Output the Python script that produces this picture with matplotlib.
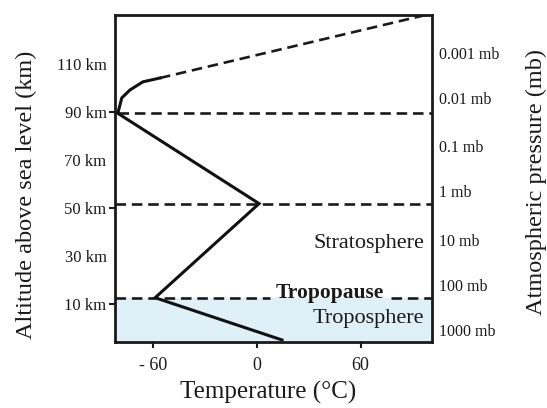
import matplotlib
matplotlib.use("Agg")
import matplotlib.pyplot as plt

# Temperature profile (temperature °C, altitude km)
profile_temp = [14.5, -59, 1.2, -80.6, -78.3, -73.6, -66.1, -56.2]
profile_alt = [-4.8, 12.8, 52.0, 89.6, 96.0, 99.3, 102.7, 104.3]
# extrapolated (dashed) upper part
upper_temp = [-56.2, 100.3]
upper_alt = [104.3, 131.0]

# Boundary levels (km)
tropopause_alt = 12.8
stratopause_alt = 51.8
mesopause_alt = 89.6

alt_ticks_major = [10, 50, 90]
alt_ticks_minor = [30, 70, 110]
temp_ticks = [-60, 0, 60]
temp_labels = ["- 60", "0", "60"]

pressure_alt = [114.7, 96.0, 76.1, 57.4, 36.7, 18.0, -0.7]
pressure_labels = ["0.001 mb", "0.01 mb", "0.1 mb", "1 mb", "10 mb", "100 mb", "1000 mb"]

XMIN, XMAX = -82.3, 101.4
YMIN, YMAX = -5.6, 130.5

plt.rcParams['font.family'] = ['Liberation Serif', 'DejaVu Serif']
TXT = '#1a1a1a'

fig = plt.figure(figsize=(5.47, 4.08), dpi=100)
ax = fig.add_axes([0.210, 0.162, 0.580, 0.801])
ax.set_xlim(XMIN, XMAX)
ax.set_ylim(YMIN, YMAX)

# troposphere shading
ax.axhspan(YMIN, tropopause_alt, color='#dff0f8', zorder=0, lw=0)

dash = dict(color='#1a1a1a', lw=1.9, dashes=(4, 2.2))
# tropopause dashed line interrupted by label
ax.plot([XMIN, 7.5], [tropopause_alt, tropopause_alt], **dash)
ax.plot([77.5, XMAX], [tropopause_alt, tropopause_alt], **dash)
ax.plot([XMIN, XMAX], [stratopause_alt, stratopause_alt], **dash)
ax.plot([-80.6, XMAX], [mesopause_alt, mesopause_alt], **dash)
ax.plot(upper_temp, upper_alt, **dash)

ax.plot(profile_temp, profile_alt, color='#111111', lw=2.2, solid_joinstyle='miter', clip_on=False)

ax.text(42.3, 14.6, "Tropopause", fontsize=15.5, ha='center', va='center', color=TXT, fontweight='bold')
ax.text(97.0, 35.4, "Stratosphere", fontsize=16, ha='right', va='center', color=TXT)
ax.text(97.0, 4.3, "Troposphere", fontsize=16, ha='right', va='center', color=TXT)

for s in ax.spines.values():
    s.set_linewidth(2.0)
    s.set_color('#1a1a1a')

ax.set_xticks(temp_ticks, temp_labels)
ax.set_yticks(alt_ticks_major, [f"{v} km" for v in alt_ticks_major])
ax.set_yticks(alt_ticks_minor, [f"{v} km" for v in alt_ticks_minor], minor=True)
ax.tick_params(axis='x', length=4, width=1.5, labelsize=13, pad=7, colors=TXT)
ax.tick_params(axis='y', which='major', length=4, width=1.5, labelsize=12, pad=2, colors=TXT)
ax.tick_params(axis='y', which='minor', length=0, labelsize=12, pad=6, colors=TXT)

ax.set_xlabel("Temperature (°C)", fontsize=18, color=TXT)
ax.xaxis.set_label_coords(0.483, -0.12)
ax.set_ylabel("Altitude above sea level (km)", fontsize=17.5, color=TXT)
ax.yaxis.set_label_coords(-0.245, 0.45)

ax2 = ax.twinx()
ax2.set_ylim(YMIN, YMAX)
ax2.set_yticks(pressure_alt, pressure_labels)
ax2.tick_params(axis='y', length=0, labelsize=11.5, pad=5, colors=TXT)
for s in ax2.spines.values():
    s.set_visible(False)
ax2.set_ylabel("Atmospheric pressure (mb)", fontsize=17.5, color=TXT, rotation=90)
ax2.yaxis.set_label_coords(1.295, 0.49)

fig.savefig("out.png", dpi=100)
